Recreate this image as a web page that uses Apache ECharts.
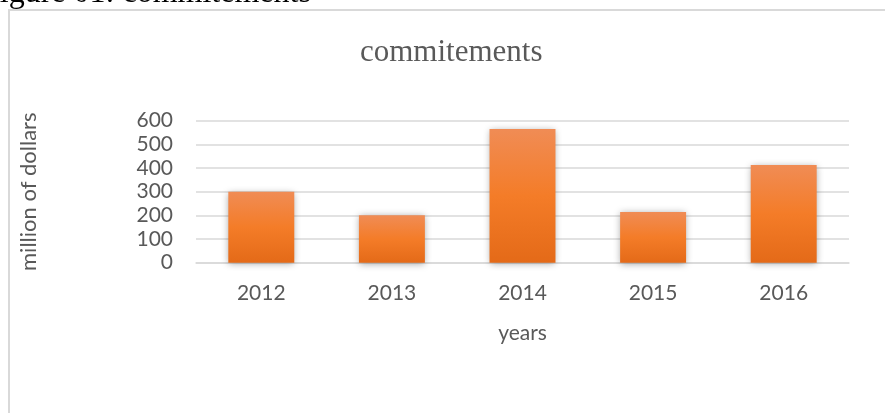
<!DOCTYPE html>
<html>
<head>
<meta charset="utf-8">
<script src="https://cdn.jsdelivr.net/npm/echarts@6/dist/echarts.min.js"></script>
<style>
html,body{margin:0;padding:0;background:#fff;}
#c{width:885px;height:413px;}
</style>
</head>
<body>
<div id="c"></div>
<script>
const categories = ['2012', '2013', '2014', '2015', '2016'];
const commitments = [300, 200, 565, 214, 413];
const yTicks = [0, 100, 200, 300, 400, 500, 600];

const chart = echarts.init(document.getElementById('c'), null, {renderer: 'canvas'});
const labelFont = 'Lato';
chart.setOption({
  animation: false,
  backgroundColor: '#ffffff',
  graphic: [
    {type: 'rect', silent: true, z: -1,
     shape: {x: 9, y: 10, width: 960, height: 520},
     style: {fill: 'none', stroke: '#d9d9d9', lineWidth: 2}},
    {type: 'text', left: -18, top: -22,
     style: {text: 'Figure 01: commitements', font: '32px "Liberation Serif"', fill: '#000000'}}
  ],
  title: {
    text: 'commitements',
    left: 355,
    top: 32,
    textStyle: {fontFamily: 'Liberation Serif', fontSize: 31, fontWeight: 'normal', color: '#595959'}
  },
  grid: {left: 196, right: 36, top: 120.7, bottom: 150.3, containLabel: false},
  xAxis: {
    type: 'category',
    data: categories,
    name: 'years',
    nameLocation: 'middle',
    nameGap: 60,
    nameTextStyle: {fontFamily: labelFont, fontSize: 21, color: '#595959'},
    axisLine: {show: true, lineStyle: {color: '#d9d9d9', width: 1.5}},
    axisTick: {show: false},
    axisLabel: {margin: 20, fontFamily: labelFont, fontSize: 21, color: '#595959'}
  },
  yAxis: {
    type: 'value',
    min: 0, max: 600, interval: 100,
    name: 'million of dollars',
    nameLocation: 'middle',
    nameGap: 156,
    nameTextStyle: {fontFamily: labelFont, fontSize: 22, color: '#595959'},
    axisLine: {show: false},
    axisTick: {show: false},
    splitLine: {lineStyle: {color: '#d9d9d9', width: 1.5}},
    axisLabel: {
      margin: 23, fontFamily: labelFont, fontSize: 21, color: '#595959',
      formatter: function (v) { return yTicks.indexOf(v) >= 0 ? String(v) : ''; }
    }
  },
  series: [{
    type: 'bar',
    data: commitments,
    barWidth: '50.5%',
    itemStyle: {
      color: new echarts.graphic.LinearGradient(0, 0, 0, 1, [
        {offset: 0, color: '#f08c55'},
        {offset: 0.5, color: '#f47c28'},
        {offset: 1, color: '#e46a18'}
      ]),
      shadowColor: 'rgba(0,0,0,0.35)',
      shadowBlur: 7,
      shadowOffsetX: 0,
      shadowOffsetY: 1
    }
  }]
});
</script>
</body>
</html>
